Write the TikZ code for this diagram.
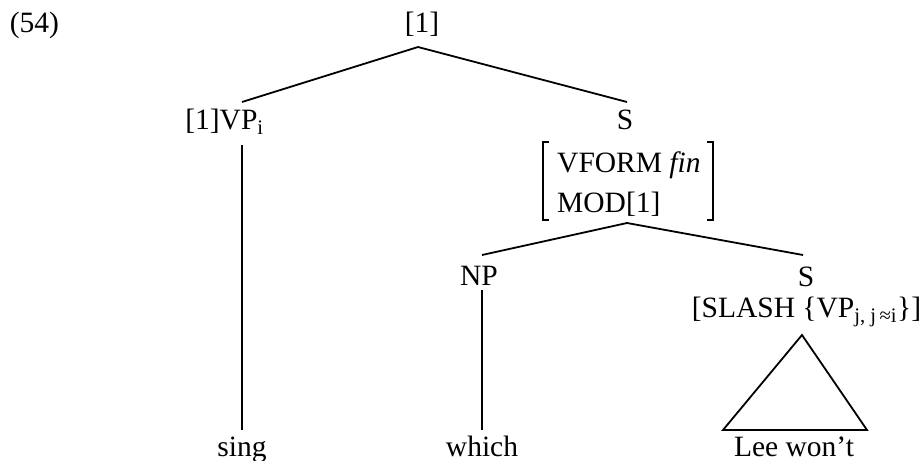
\documentclass[tikz,border=0pt]{standalone}
\usepackage{fontspec}
\setmainfont{Liberation Serif}
\tikzset{
  lbl/.style={inner sep=0pt, anchor=base, font=\fontsize{29.5}{35}\selectfont},
  edge/.style={line width=1.8pt, line cap=butt},
}
\begin{document}
\begin{tikzpicture}[x=1pt,y=-1pt]
\useasboundingbox (0,0) rectangle (922,461);
% labels
\node[lbl] (ex) at (34.5,32) {(54)};
\node[lbl] (root) at (422,32) {[1]};
\node[lbl] (vp) at (224.5,129) {[1]VP\textsubscript{i}};
\node[lbl] (s1) at (625,129) {S};
\node[lbl,anchor=base west] (vform) at (557,172) {VFORM \textit{f\kern0pt{}in}};
\node[lbl,anchor=base west] (mod) at (557,212) {MOD[1]};
\node[lbl] (np) at (479,285) {NP};
\node[lbl] (s2) at (806,286) {S};
\node[lbl] (slash) at (806.5,317) {[SLASH \{VP\textsubscript{j, j\,≈i}\}]};
\node[lbl] (sing) at (242,456) {sing};
\node[lbl] (which) at (482,456) {which};
\node[lbl] (lee) at (794,456) {Lee won’t};
% connector end points
\coordinate (rootj) at (418,47);
\coordinate (vpt) at (242,102);
\coordinate (s1t) at (627,102);
\coordinate (vpb) at (242,145);
\coordinate (singt) at (242,430);
\coordinate (avmj) at (627,223);
\coordinate (npt) at (482,255);
\coordinate (s2t) at (803,255);
\coordinate (npb) at (482,290);
\coordinate (whicht) at (482,430);
\coordinate (tria) at (802,335);
\coordinate (tril) at (723,430);
\coordinate (trir) at (867,430);
% edges
\draw[edge] (rootj) -- (vpt);
\draw[edge] (rootj) -- (s1t);
\draw[edge] (vpb) -- (singt);
\draw[edge] (avmj) -- (npt);
\draw[edge] (avmj) -- (s2t);
\draw[edge] (npb) -- (whicht);
\draw[edge, line join=miter] (tria) -- (tril) -- (trir) -- cycle;
% AVM brackets
\draw[line width=1.5pt] (549,142) -- (543,142) -- (543,220) -- (549,220);
\draw[line width=1.5pt] (707,142) -- (713,142) -- (713,220) -- (707,220);
\end{tikzpicture}
\end{document}
